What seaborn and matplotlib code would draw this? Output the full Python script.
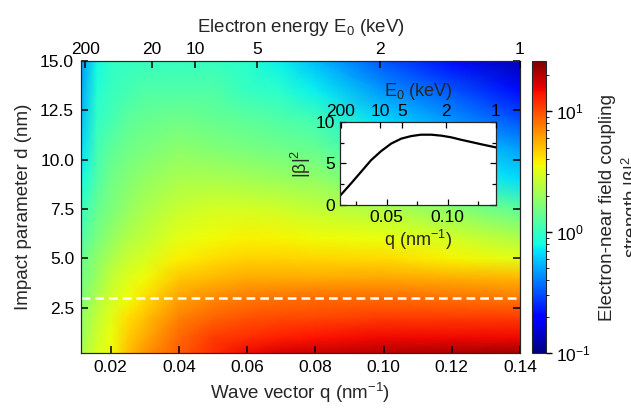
import numpy as np
import matplotlib
matplotlib.use("Agg")
import matplotlib.pyplot as plt
from matplotlib.colors import LogNorm
import seaborn as sns

sns.set_style("ticks")
plt.rcParams["font.family"] = ["Liberation Sans", "DejaVu Sans"]
plt.rcParams["mathtext.fontset"] = "custom"
plt.rcParams["mathtext.rm"] = "Liberation Sans"
plt.rcParams["mathtext.it"] = "Liberation Sans:italic"
plt.rcParams["xtick.direction"] = "in"
plt.rcParams["ytick.direction"] = "in"
plt.rcParams["xtick.color"] = "black"
plt.rcParams["ytick.color"] = "black"
plt.rcParams["axes.axisbelow"] = False  # ticks on top of the map

# --- data: coupling map, |beta|^2 on a (d, q) grid ---
q_grid = [0.0113, 0.016, 0.02, 0.025, 0.03, 0.04, 0.05, 0.06, 0.07, 0.08, 0.10, 0.12, 0.14]
d_grid = [0.2, 1, 2, 3, 4, 5, 6, 7.5, 9, 10.5, 12, 13.5, 15]

b2_d0p2 = [2.2, 3.0, 3.5, 5.0, 6.5, 9.0, 12, 15, 17, 18, 20, 21, 22]
b2_d1 = [2.0, 2.8, 3.4, 4.7, 5.8, 8.5, 11, 12, 13, 14, 15, 15, 15]
b2_d2 = [1.9, 2.6, 3.2, 4.2, 5.0, 7.3, 8.7, 9.7, 10, 10.3, 11, 11, 11]
b2_d3 = [1.6, 2.3, 2.8, 3.5, 4.2, 6.0, 7.0, 7.7, 8.0, 8.3, 8.3, 8.0, 7.6]
b2_d4 = [1.5, 2.0, 2.6, 3.1, 3.6, 4.8, 5.3, 5.7, 5.7, 5.7, 5.9, 5.6, 5.4]
b2_d5 = [1.4, 1.8, 2.2, 2.7, 3.0, 3.8, 4.2, 4.5, 4.5, 4.4, 4.3, 3.7, 3.2]
b2_d6 = [1.2, 1.6, 1.9, 2.3, 2.6, 3.3, 3.6, 3.8, 3.7, 3.6, 3.4, 2.9, 2.3]
b2_d7p5 = [0.99, 1.4, 1.6, 1.9, 2.2, 2.7, 2.9, 2.9, 2.8, 2.6, 2.3, 1.8, 1.3]
b2_d9 = [0.79, 1.2, 1.5, 1.7, 1.9, 2.2, 2.2, 2.1, 2.0, 1.9, 1.4, 0.99, 0.67]
b2_d10p5 = [0.67, 1.1, 1.3, 1.5, 1.6, 1.8, 1.7, 1.6, 1.5, 1.4, 0.99, 0.67, 0.48]
b2_d12 = [0.58, 0.99, 1.1, 1.3, 1.4, 1.5, 1.4, 1.3, 1.2, 1.1, 0.66, 0.45, 0.31]
b2_d13p5 = [0.50, 0.88, 1.0, 1.1, 1.2, 1.2, 1.2, 1.0, 0.93, 0.75, 0.45, 0.32, 0.21]
b2_d15 = [0.45, 0.79, 0.96, 1.0, 1.0, 1.0, 1.0, 0.93, 0.75, 0.56, 0.32, 0.21, 0.13]

# inset: |beta|^2 along the dashed line (d = 3 nm)
inset_q = [0.0117, 0.0208, 0.029, 0.0372, 0.0455, 0.0537, 0.062, 0.070, 0.078,
           0.0866, 0.095, 0.103, 0.111, 0.1196, 0.128, 0.1396]
inset_b2 = [1.1, 2.6, 4.0, 5.4, 6.5, 7.4, 8.0, 8.3, 8.47, 8.47, 8.35, 8.15, 7.86,
            7.58, 7.3, 6.94]

d_line = 3.0
energy_ticks_main = [200, 20, 10, 5, 2, 1]
energy_ticks_inset = [200, 10, 5, 2, 1]

# q = (omega/c) / beta(E0), photon wave vector omega/c in nm^-1
q_photon = 0.00874


def q_of_energy(e_kev):
    gamma = 1 + np.asarray(e_kev, float) / 511.0
    return q_photon / np.sqrt(1 - 1 / gamma**2)


beta2 = np.array([b2_d0p2, b2_d1, b2_d2, b2_d3, b2_d4, b2_d5, b2_d6, b2_d7p5,
                  b2_d9, b2_d10p5, b2_d12, b2_d13p5, b2_d15])

fig = plt.figure(figsize=(6.31, 4.09), dpi=100)
ax = fig.add_axes([0.1284, 0.1369, 0.6957, 0.7139])
cax = fig.add_axes([0.8431, 0.1369, 0.0222, 0.7139])

norm = LogNorm(vmin=0.1, vmax=26)
mesh = ax.pcolormesh(q_grid, d_grid, beta2, cmap="jet", norm=norm,
                     shading="gouraud", rasterized=True)
ax.axhline(d_line, color="white", lw=1.8, ls=(0, (3.5, 2)))
ax.set_xlim(0.0113, 0.14)
ax.set_ylim(0.2, 15)
ax.set_xticks([0.02, 0.04, 0.06, 0.08, 0.10, 0.12, 0.14])
ax.set_xticklabels(["0.02", "0.04", "0.06", "0.08", "0.10", "0.12", "0.14"])
ax.set_yticks([2.5, 5.0, 7.5, 10.0, 12.5, 15.0])
ax.set_yticklabels(["2.5", "5.0", "7.5", "10.0", "12.5", "15.0"])
ax.tick_params(labelsize=12.5, right=True, length=5, width=1.1, pad=5)
ax.set_xlabel("Wave vector q (nm$^{-1}$)", fontsize=13.5, labelpad=4)
ax.set_ylabel("Impact parameter d (nm)", fontsize=13.5, labelpad=6)
for s in ax.spines.values():
    s.set_color("#333333")

top = ax.twiny()
top.set_xlim(ax.get_xlim())
top.set_xticks(q_of_energy(energy_ticks_main))
top.set_xticklabels([str(e) for e in energy_ticks_main])
top.tick_params(labelsize=12.5, length=5, width=1.1, pad=3)
top.set_xlabel("Electron energy E$_0$ (keV)", fontsize=13.5, labelpad=7)

cb = fig.colorbar(mesh, cax=cax)
cb.ax.tick_params(which="major", direction="out", length=4, width=1, labelsize=12.5)
cb.ax.tick_params(which="minor", direction="out", length=2)
cb.outline.set_linewidth(0.8)
cb.set_label("Electron-near field coupling\nstrength |β|$^2$", fontsize=13.5, labelpad=6)

# inset
axi = fig.add_axes([0.5388, 0.4988, 0.2472, 0.2029])
sns.lineplot(x=inset_q, y=inset_b2, ax=axi, color="black", lw=1.6)
axi.set_facecolor("white")
axi.set_xlim(0.0117, 0.1396)
axi.set_ylim(0, 10)
axi.set_xticks([0.05, 0.10])
axi.set_xticklabels(["0.05", "0.10"])
axi.set_xticks([0.025, 0.075, 0.125], minor=True)
axi.set_yticks([0, 5, 10])
axi.set_yticks([2.5, 7.5], minor=True)
axi.tick_params(which="both", right=True, labelsize=12.5, length=4, width=0.9)
axi.tick_params(which="minor", length=3)
axi.set_xlabel("q (nm$^{-1}$)", fontsize=13, labelpad=2)
axi.set_ylabel("|β|$^2$", fontsize=13, labelpad=2)
for s in axi.spines.values():
    s.set_linewidth(0.8)
    s.set_color("black")

itop = axi.twiny()
itop.set_xlim(axi.get_xlim())
itop.set_xticks(q_of_energy(energy_ticks_inset))
itop.set_xticklabels([str(e) for e in energy_ticks_inset])
itop.tick_params(labelsize=12.5, length=4, width=0.9, pad=2)
itop.set_xlabel("E$_0$ (keV)", fontsize=13, labelpad=6)

fig.savefig("out.png", dpi=100)
